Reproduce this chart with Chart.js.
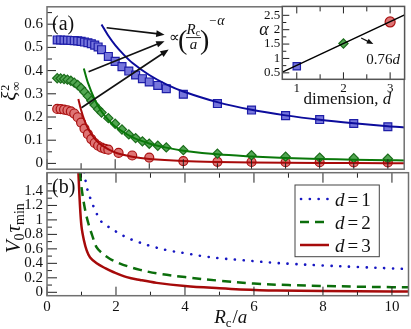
<!DOCTYPE html>
<html>
<head>
<meta charset="utf-8">
<script src="https://cdn.jsdelivr.net/npm/chart.js@4.4.1/dist/chart.umd.min.js"></script>
<style>
  html, body { margin: 0; padding: 0; background: #fff; }
  #wrap { position: relative; width: 411px; height: 329px; overflow: hidden; }
  #wrap canvas { position: absolute; }
</style>
</head>
<body>
<div id="wrap">
  <canvas id="ca" width="411" height="176" style="left:0;top:0"></canvas>
  <canvas id="cb" width="411" height="161" style="left:0;top:168px"></canvas>
  <canvas id="cc" width="161" height="110" style="left:250px;top:0"></canvas>
</div>
<script>
const SERIF = "'Liberation Serif', 'Times New Roman', serif";
Chart.defaults.font.family = SERIF;
Chart.defaults.font.size = 15;
Chart.defaults.color = '#111';
Chart.defaults.animation = false;
Chart.defaults.plugins.legend.display = false;
Chart.defaults.plugins.tooltip.enabled = false;

// ---- panel (a): xi^2 vs Rc/a ----
const rBlue = [0.3, 0.4, 0.5, 0.6, 0.7, 0.8, 0.9, 1.0, 1.1, 1.2, 1.3, 1.4, 1.5, 1.6, 1.8, 2.0, 2.2, 2.4, 2.6, 2.8, 3.0, 3.25, 3.5, 4, 5, 6, 7, 8, 9, 10];
const xiBlue = [0.532, 0.532, 0.531, 0.531, 0.530, 0.529, 0.528, 0.526, 0.523, 0.520, 0.516, 0.510, 0.502, 0.490, 0.461, 0.440, 0.417, 0.398, 0.381, 0.365, 0.351, 0.336, 0.322, 0.298, 0.258, 0.230, 0.206, 0.189, 0.172, 0.158];
const rGreen = [0.3, 0.4, 0.5, 0.6, 0.7, 0.8, 0.9, 1.0, 1.1, 1.2, 1.3, 1.4, 1.5, 1.6, 1.8, 2.0, 2.2, 2.4, 2.6, 2.8, 3.0, 3.25, 3.5, 4, 5, 6, 7, 8, 9, 10];
const xiGreen = [0.367, 0.366, 0.364, 0.361, 0.356, 0.348, 0.338, 0.325, 0.308, 0.290, 0.270, 0.251, 0.234, 0.219, 0.195, 0.171, 0.146, 0.125, 0.109, 0.095, 0.085, 0.076, 0.069, 0.057, 0.042, 0.035, 0.029, 0.025, 0.022, 0.020];
const rRed = [0.3, 0.4, 0.5, 0.6, 0.7, 0.8, 0.9, 1.0, 1.1, 1.2, 1.3, 1.4, 1.5, 1.6, 1.7, 1.8, 2.1, 2.5, 3, 4, 5, 6, 7, 8, 9, 10];
const xiRed = [0.235, 0.234, 0.232, 0.229, 0.224, 0.215, 0.199, 0.176, 0.150, 0.126, 0.105, 0.088, 0.076, 0.068, 0.063, 0.059, 0.045, 0.034, 0.025, 0.010, 0.007, 0.006, 0.005, 0.005, 0.004, 0.004];

// power-law fits
const rFitBlue = [1.6, 1.8, 2, 2.25, 2.5, 3, 3.5, 4, 5, 6, 7, 8, 9, 10, 10.5];
const fitBlue = [0.599, 0.550, 0.510, 0.469, 0.434, 0.381, 0.341, 0.310, 0.264, 0.231, 0.207, 0.188, 0.173, 0.160, 0.155];
const rFitGreen = [1.08, 1.2, 1.4, 1.6, 1.8, 2, 2.5, 3, 3.5, 4, 5, 6, 7, 8, 9, 10, 10.5];
const fitGreen = [0.409, 0.348, 0.275, 0.224, 0.187, 0.159, 0.113, 0.086, 0.068, 0.055, 0.039, 0.030, 0.023, 0.019, 0.016, 0.014, 0.013];
const rFitRed = [0.92, 1.0, 1.1, 1.2, 1.4, 1.6, 2, 2.5, 3, 4, 5, 6, 8, 10, 10.5];
const fitRed = [0.278, 0.230, 0.185, 0.152, 0.107, 0.079, 0.047, 0.029, 0.019, 0.010, 0.006, 0.004, 0.002, 0.001, 0.001];

// ---- panel (b): V0 tau_min ----
const rD1 = [1.08, 1.15, 1.27, 1.4, 1.55, 1.7, 1.9, 2.1, 2.3, 2.5, 3, 3.5, 4, 4.5, 5, 5.5, 6, 6.5, 7, 8, 9, 10, 10.5];
const tauD1 = [1.66, 1.46, 1.28, 1.13, 0.99, 0.93, 0.87, 0.81, 0.76, 0.72, 0.64, 0.58, 0.54, 0.50, 0.47, 0.45, 0.43, 0.41, 0.395, 0.37, 0.35, 0.33, 0.32];
const rD2 = [0.96, 1.0, 1.1, 1.2, 1.3, 1.44, 1.6, 1.83, 2.1, 2.4, 2.7, 3.2, 4, 5, 6, 7, 8, 9, 10, 10.5];
const tauD2 = [1.66, 1.45, 1.15, 0.95, 0.80, 0.62, 0.54, 0.46, 0.40, 0.35, 0.31, 0.26, 0.21, 0.16, 0.12, 0.10, 0.088, 0.078, 0.071, 0.068];
const rD3 = [0.91, 0.95, 1.0, 1.07, 1.15, 1.25, 1.44, 1.7, 1.92, 2.31, 2.7, 3.18, 4, 5, 5.6, 6.66, 8, 10, 10.5];
const tauD3 = [1.66, 1.25, 0.91, 0.72, 0.58, 0.48, 0.40, 0.33, 0.28, 0.21, 0.17, 0.13, 0.087, 0.055, 0.040, 0.025, 0.018, 0.012, 0.010];
const legendLabels = ['1', '2', '3'];

// ---- inset: exponent alpha vs dimension ----
const dims = [1, 2, 3];
const alphas = [0.73, 1.52, 2.27];
const dFit = [0.69, 3.31];
const alphaFit = [0.524, 2.516];

// ticks
const xTicks = [0, 2, 4, 6, 8, 10];
const xMinor = [1, 3, 5, 7, 9];
const yTicksA = [0, 0.1, 0.2, 0.3, 0.4, 0.5, 0.6];
const yMinorA = [0.05, 0.15, 0.25, 0.35, 0.45, 0.55, 0.65];
const yTicksB = [0, 0.2, 0.4, 0.6, 0.8, 1, 1.2, 1.4];
const yMinorB = [0.1, 0.3, 0.5, 0.7, 0.9, 1.1, 1.3, 1.5];
const dTicks = [1, 2, 3];
const dMinor = [1.5, 2.5];
const aTicks = [0.5, 1, 1.5, 2, 2.5];
const aMinor = [0.75, 1.25, 1.75, 2.25];

const C = {
  blueLine: '#0c0c9c', blueFill: '#7676dc', blueEdge: '#1e1ea8',
  greenLine: '#0a780a', greenFill: '#52a652', greenEdge: '#1b6d1b',
  redLine: '#a80a0a', redFill: '#de7474', redEdge: '#aa1212',
  d1: '#1717c2', d2: '#0b6e0b', d3: '#a60a0a',
  frame: '#707070', tick: '#222'
};

const pts = (xs, ys) => xs.map((x, i) => ({x, y: ys[i]}));

function fitLine(xs, ys, color, extra) {
  return Object.assign({data: pts(xs, ys), showLine: true, borderColor: color, borderWidth: 2,
    pointRadius: 0, fill: false, tension: 0.3}, extra || {});
}
function markers(xs, ys, style, r, fill, edge) {
  return {data: pts(xs, ys), showLine: false, pointStyle: style, pointRadius: r,
    pointBackgroundColor: fill, pointBorderColor: edge, pointBorderWidth: 1.2};
}

function yAxis(min, max, ticks, width, font) {
  return {
    min, max,
    afterBuildTicks: s => { s.ticks = ticks.map(v => ({value: v})); },
    afterFit: s => { s.width = width; s.paddingTop = s.paddingBottom = 0; },
    grid: {display: false, drawTicks: false}, border: {display: false},
    ticks: {padding: font ? 2 : 4, autoSkip: false, font: font ? {size: font} : undefined,
      callback: v => String(+v.toFixed(2))}
  };
}
function xAxis(min, max, ticks, height, font, pad) {
  return {
    type: 'linear', min, max,
    afterBuildTicks: s => { s.ticks = ticks.map(v => ({value: v})); },
    afterFit: s => { s.height = height; s.paddingLeft = s.paddingRight = 0; },
    grid: {display: false, drawTicks: false}, border: {display: false},
    ticks: {padding: pad, autoSkip: false, maxRotation: 0, font: font ? {size: font} : undefined,
      callback: v => String(v)}
  };
}

function drawRich(ctx, parts, x, y, align) {
  let cx = 0;
  const pos = [];
  parts.forEach((p, k) => {
    ctx.font = (p.i ? 'italic ' : '') + p.s + 'px ' + SERIF;
    const w = ctx.measureText(p.t).width;
    const px = p.stack ? pos[k - 1] : cx + (p.dx || 0);
    pos.push(px);
    cx = Math.max(cx, px + w);
  });
  const x0 = align === 'center' ? x - cx / 2 : align === 'right' ? x - cx : x;
  ctx.textAlign = 'left';
  ctx.textBaseline = 'alphabetic';
  parts.forEach((p, k) => {
    ctx.font = (p.i ? 'italic ' : '') + p.s + 'px ' + SERIF;
    ctx.fillText(p.t, x0 + pos[k], y + (p.dy || 0));
  });
}

function arrow(ctx, x1, y1, x2, y2, head, lw) {
  const ang = Math.atan2(y2 - y1, x2 - x1);
  ctx.lineWidth = lw;
  ctx.beginPath();
  ctx.moveTo(x1, y1);
  ctx.lineTo(x2 - Math.cos(ang) * head * 0.7, y2 - Math.sin(ang) * head * 0.7);
  ctx.stroke();
  ctx.beginPath();
  ctx.moveTo(x2, y2);
  ctx.lineTo(x2 - head * Math.cos(ang - 0.38), y2 - head * Math.sin(ang - 0.38));
  ctx.lineTo(x2 - head * Math.cos(ang + 0.38), y2 - head * Math.sin(ang + 0.38));
  ctx.closePath();
  ctx.fill();
}

// frame with inward ticks; spec.ticks = [[values, side, length], ...]
function framePlugin(spec) {
  return {
    id: 'frame',
    beforeDatasetsDraw(chart) {
      if (!spec.fill) return;
      const a = chart.chartArea, ctx = chart.ctx;
      ctx.save();
      ctx.fillStyle = '#fff';
      ctx.fillRect(a.left, a.top, a.right - a.left, a.bottom - a.top);
      ctx.restore();
    },
    afterDraw(chart) {
      const {ctx, chartArea: a, scales: {x, y}} = chart;
      ctx.save();
      ctx.strokeStyle = C.tick;
      ctx.lineWidth = 1;
      spec.ticks.forEach(([vals, side, len]) => vals.forEach(v => {
        ctx.beginPath();
        if (side === 'bottom' || side === 'top') {
          const p = x.getPixelForValue(v), e = side === 'bottom' ? a.bottom : a.top;
          ctx.moveTo(p, e); ctx.lineTo(p, side === 'bottom' ? e - len : e + len);
        } else {
          const p = y.getPixelForValue(v);
          ctx.moveTo(a.left, p); ctx.lineTo(a.left + len, p);
        }
        ctx.stroke();
      }));
      ctx.strokeStyle = spec.frame || C.frame;
      ctx.lineWidth = 1.5;
      ctx.strokeRect(a.left, a.top, a.right - a.left, a.bottom - a.top);
      ctx.fillStyle = '#111';
      ctx.strokeStyle = '#111';
      if (spec.extra) spec.extra(chart, ctx);
      ctx.restore();
    }
  };
}

// ---------- panel (a) ----------
new Chart(document.getElementById('ca'), {
  type: 'scatter',
  data: {datasets: [
    fitLine(rFitBlue, fitBlue, C.blueLine),
    fitLine(rFitGreen, fitGreen, C.greenLine),
    fitLine(rFitRed, fitRed, C.redLine),
    markers(rBlue, xiBlue, 'rect', 5.6, C.blueFill, C.blueEdge),
    markers(rGreen, xiGreen, 'rectRot', 4.6, C.greenFill, C.greenEdge),
    markers(rRed, xiRed, 'circle', 4.5, C.redFill, C.redEdge)
  ]},
  options: {
    responsive: false,
    layout: {padding: {top: 2, right: 2.5, bottom: 3.3, left: 0}},
    scales: {
      x: {type: 'linear', min: 0, max: 10.48, display: false},
      y: yAxis(-0.025, 0.675, yTicksA, 47)
    }
  },
  plugins: [framePlugin({
    ticks: [[yTicksA, 'left', 9], [yMinorA, 'left', 5], [xTicks, 'bottom', 10], [xMinor, 'bottom', 6]],
    extra(chart, ctx) {
      const {x, y} = chart.scales, a = chart.chartArea;
      drawRich(ctx, [{t: '(a)', s: 20}], a.left + 5, a.top + 23, 'left');
      // arrows from the fit curves to the formula
      const from = [[1.75, 0.585], [1.22, 0.395], [1.01, 0.24]];
      const to = [[3.45, 0.555], [3.45, 0.527], [3.57, 0.491]];
      from.forEach((f, i) => arrow(ctx, x.getPixelForValue(f[0]), y.getPixelForValue(f[1]),
        x.getPixelForValue(to[i][0]), y.getPixelForValue(to[i][1]), 9, 1.6));
      // formula  ∝ (Rc/a)^-α
      const bx = x.getPixelForValue(3.58), by = y.getPixelForValue(0.523);
      drawRich(ctx, [{t: '\u221D', s: 15}], bx, by, 'left');
      drawRich(ctx, [{t: '(', s: 28}], bx + 9, by + 7, 'left');
      drawRich(ctx, [{t: 'R', s: 15, i: true}, {t: 'c', s: 10, dy: 2}], bx + 17.5, by - 8, 'left');
      ctx.lineWidth = 0.9;
      ctx.beginPath(); ctx.moveTo(bx + 17, by - 4.5); ctx.lineTo(bx + 32, by - 4.5); ctx.stroke();
      drawRich(ctx, [{t: 'a', s: 15, i: true}], bx + 24.5, by + 7, 'center');
      drawRich(ctx, [{t: ')', s: 28}], bx + 31, by + 7, 'left');
      drawRich(ctx, [{t: '\u2212', s: 13}, {t: '\u03B1', s: 14, i: true, dx: 1}], bx + 40, by - 17, 'left');
      // y-axis title  ξ²∞
      ctx.save();
      ctx.translate(16, (a.top + a.bottom) / 2 + 3);
      ctx.rotate(-Math.PI / 2);
      drawRich(ctx, [{t: '\u03BE', s: 21, i: true}, {t: '2', s: 12, dy: -7, dx: 1}, {t: '\u221E', s: 13, dy: 4, stack: true}], 0, 0, 'center');
      ctx.restore();
    }
  })]
});

// ---------- panel (b) ----------
new Chart(document.getElementById('cb'), {
  type: 'scatter',
  data: {datasets: [
    fitLine(rD1, tauD1, C.d1, {borderWidth: 2.6, borderDash: [0.1, 8.7], borderCapStyle: 'round', tension: 0.35}),
    fitLine(rD2, tauD2, C.d2, {borderWidth: 2.5, borderDash: [9, 6], tension: 0.35}),
    fitLine(rD3, tauD3, C.d3, {borderWidth: 2.5, tension: 0.35})
  ]},
  options: {
    responsive: false,
    layout: {padding: {top: 4.7, right: 2.5, bottom: 0, left: 0}},
    scales: {
      x: xAxis(0, 10.48, xTicks, 33.3, null, 2),
      y: yAxis(-0.047, 1.652, yTicksB, 47)
    }
  },
  plugins: [framePlugin({
    ticks: [[yTicksB, 'left', 10], [yMinorB, 'left', 5], [xTicks, 'bottom', 9], [xMinor, 'bottom', 4],
      [xTicks, 'top', 10], [xMinor, 'top', 5]],
    extra(chart, ctx) {
      const a = chart.chartArea;
      drawRich(ctx, [{t: '(b)', s: 20}], a.left + 5, a.top + 20, 'left');
      // legend
      const lx = a.right - 113.5, ly = a.top + 12.3;
      ctx.fillStyle = '#fff';
      ctx.fillRect(lx, ly, 84.3, 71.7);
      ctx.strokeStyle = '#444';
      ctx.lineWidth = 1;
      ctx.strokeRect(lx, ly, 84.3, 71.7);
      chart.data.datasets.forEach((ds, i) => {
        const ry = ly + 14 + i * 23;
        ctx.save();
        ctx.strokeStyle = ds.borderColor;
        ctx.lineWidth = ds.borderWidth;
        ctx.lineCap = ds.borderCapStyle || 'butt';
        ctx.setLineDash(i === 0 ? [0.1, 8.7] : (ds.borderDash || []));
        ctx.beginPath(); ctx.moveTo(lx + (i === 0 ? 6 : 5), ry); ctx.lineTo(lx + 34, ry); ctx.stroke();
        ctx.restore();
        ctx.fillStyle = '#111';
        drawRich(ctx, [{t: 'd', s: 19, i: true}, {t: '=', s: 19, dx: 3}, {t: legendLabels[i], s: 19, dx: 3}], lx + 40, ry + 6.5, 'left');
      });
      ctx.fillStyle = '#111';
      // x-axis title  Rc/a
      drawRich(ctx, [{t: 'R', s: 19, i: true}, {t: 'c', s: 13, dy: 4}, {t: '/', s: 19, dx: 1}, {t: 'a', s: 19, i: true}],
        (a.left + a.right) / 2 + 3, 155, 'center');
      // y-axis title  V0 τmin
      ctx.save();
      ctx.translate(20, (a.top + a.bottom) / 2 - 6);
      ctx.rotate(-Math.PI / 2);
      drawRich(ctx, [{t: 'V', s: 21, i: true}, {t: '0', s: 14, dy: 4}, {t: '\u03C4', s: 21, i: true, dx: 1}, {t: 'min', s: 14, dy: 4}], 0, 0, 'center');
      ctx.restore();
    }
  })]
});

// ---------- inset ----------
new Chart(document.getElementById('cc'), {
  type: 'scatter',
  data: {datasets: [
    {data: pts(dFit, alphaFit), showLine: true, borderColor: '#000', borderWidth: 1.5, pointRadius: 0},
    {data: pts(dims, alphas), showLine: false, pointStyle: ['rect', 'rectRot', 'circle'],
      pointRadius: [5.2, 4.6, 5], pointBackgroundColor: [C.blueFill, C.greenFill, C.redFill],
      pointBorderColor: [C.blueEdge, C.greenEdge, C.redEdge], pointBorderWidth: 1.2}
  ]},
  options: {
    responsive: false,
    layout: {padding: {top: 5, right: 4.3, bottom: 0, left: 0}},
    scales: {
      x: xAxis(0.69, 3.31, dTicks, 30.7, 13, 1),
      y: yAxis(0.275, 2.81, aTicks, 32.3, 13)
    }
  },
  plugins: [framePlugin({
    fill: true,
    frame: '#555',
    ticks: [[aTicks, 'left', 7], [aMinor, 'left', 4], [dTicks, 'bottom', 7], [dMinor, 'bottom', 5],
      [dTicks, 'top', 7], [dMinor, 'top', 5]],
    extra(chart, ctx) {
      const {x, y} = chart.scales, a = chart.chartArea;
      arrow(ctx, x.getPixelForValue(2.38), y.getPixelForValue(1.71), x.getPixelForValue(2.64), y.getPixelForValue(1.5), 7, 1.2);
      drawRich(ctx, [{t: '0.76', s: 15}, {t: 'd', s: 15, i: true}], x.getPixelForValue(3.21), y.getPixelForValue(0.81), 'right');
      drawRich(ctx, [{t: '\u03B1', s: 18, i: true}], 14, y.getPixelForValue(2) + 5, 'center');
      drawRich(ctx, [{t: 'dimension, ', s: 17}, {t: 'd', s: 17, i: true}], (a.left + a.right) / 2 + 4, 104, 'center');
    }
  })]
});
</script>
</body>
</html>
